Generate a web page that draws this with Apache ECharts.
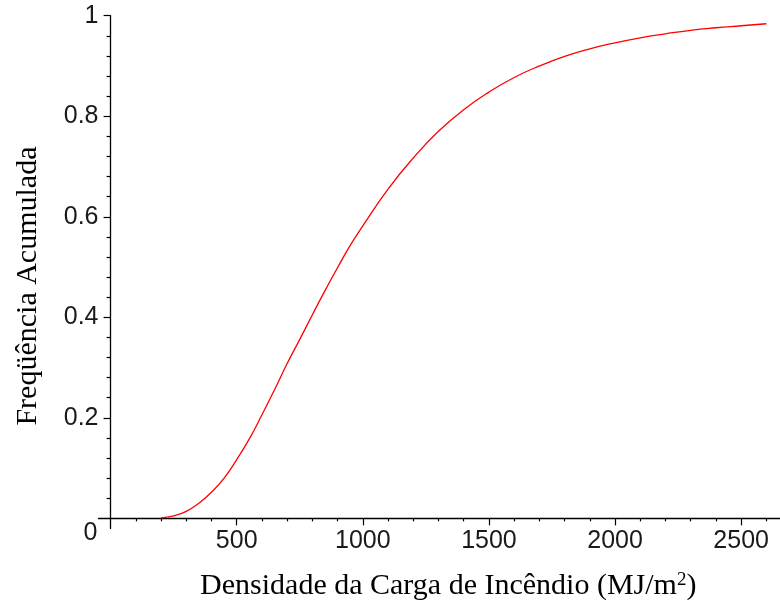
<!DOCTYPE html>
<html>
<head>
<meta charset="utf-8">
<script src="https://cdn.jsdelivr.net/npm/echarts@6/dist/echarts.min.js"></script>
<style>html,body{margin:0;padding:0;background:#fff}#c{width:780px;height:606px}</style>
</head>
<body>
<div id="c"></div>
<script>
// Fire load density (MJ/m2) and cumulative frequency
var densidade = [200, 250, 300, 350, 400, 450, 500, 550, 600, 650, 700, 750, 800, 850, 900, 950, 1000,
  1100, 1200, 1300, 1400, 1500, 1600, 1700, 1800, 1900, 2000, 2100, 2200, 2300, 2400, 2500, 2600];
var frequencia = [0.001, 0.005, 0.014, 0.03, 0.052, 0.08, 0.117, 0.158, 0.206, 0.256, 0.308, 0.356, 0.405, 0.453, 0.499, 0.543, 0.582,
  0.655, 0.717, 0.77, 0.813, 0.848, 0.877, 0.9, 0.919, 0.934, 0.946, 0.956, 0.964, 0.971, 0.976, 0.98, 0.984];
var xMajorTicks = [500, 1000, 1500, 2000, 2500];
var xMinorTicks = [100, 200, 300, 400, 600, 700, 800, 900, 1100, 1200, 1300, 1400, 1600, 1700, 1800, 1900,
  2100, 2200, 2300, 2400, 2600];
var yMajorTicks = [0.2, 0.4, 0.6, 0.8, 1];
var yLabels = [0, 0.2, 0.4, 0.6, 0.8, 1];
var yMinorTicks = [0.04, 0.08, 0.12, 0.16, 0.24, 0.28, 0.32, 0.36, 0.44, 0.48, 0.52, 0.56, 0.64, 0.68, 0.72, 0.76, 0.84, 0.88, 0.92, 0.96];

var points = densidade.map(function (x, i) { return [x, frequencia[i]]; });

var tickFont = '"Liberation Sans", Arial, sans-serif';
var serif = '"Liberation Serif", "Times New Roman", serif';
var axisColor = '#000';
var tickSize = 25;

var chart = echarts.init(document.getElementById('c'), null, { renderer: 'canvas' });
chart.setOption({
  animation: false,
  backgroundColor: '#fff',
  grid: { left: 98.5, right: 0, top: 15.7, bottom: 77.6, containLabel: false, outerBoundsMode: 'none' },
  xAxis: [{
    type: 'value', min: -48, max: 2654, position: 'bottom',
    axisLine: { show: true, onZero: true, lineStyle: { color: axisColor, width: 1.3 } },
    axisTick: { show: true, customValues: xMajorTicks, length: 7, lineStyle: { color: axisColor, width: 1.2 } },
    axisLabel: { show: true, customValues: xMajorTicks, margin: 0, color: '#1a1a1a', fontSize: tickSize, fontFamily: tickFont,
      formatter: function (v) { return String(v); } },
    splitLine: { show: false },
    name: 'Densidade da Carga de Incêndio (MJ/m{s|2})',
    nameLocation: 'middle', nameGap: 42, nameMoveOverlap: false,
    nameTextStyle: { color: '#000', fontSize: 30, fontFamily: serif, padding: [0, 0, 0, 18],
      rich: { s: { fontSize: 19, fontFamily: serif, color: '#000', verticalAlign: 'top', padding: [0, 0, 12, 0] } } }
  }, {
    type: 'value', min: -48, max: 2654, position: 'top',
    axisLine: { show: false, onZero: true },
    axisTick: { show: true, inside: true, customValues: xMinorTicks, length: 3, lineStyle: { color: axisColor, width: 1.2 } },
    axisLabel: { show: false },
    splitLine: { show: false }
  }],
  yAxis: [{
    type: 'value', min: -0.02, max: 1, position: 'left',
    axisLine: { show: true, onZero: true, lineStyle: { color: axisColor, width: 1.3 } },
    axisTick: { show: true, customValues: yMajorTicks, length: 7, lineStyle: { color: axisColor, width: 1.2 } },
    axisLabel: {
      show: true, customValues: yLabels, margin: 0, color: '#1a1a1a', fontSize: tickSize, fontFamily: tickFont,
      formatter: function (v) { return v === 0 ? '{z|0}' : String(v); },
      rich: { z: { fontSize: tickSize, fontFamily: tickFont, color: '#1a1a1a', padding: [30, 1, 0, 0] } }
    },
    splitLine: { show: false },
    name: 'Freqüência Acumulada',
    nameLocation: 'middle', nameGap: 55, nameMoveOverlap: false,
    nameTextStyle: { color: '#000', fontSize: 30, fontFamily: serif, padding: [0, 28, 0, 0] }
  }, {
    type: 'value', min: -0.02, max: 1, position: 'right',
    axisLine: { show: false, onZero: true },
    axisTick: { show: true, inside: true, customValues: yMinorTicks, length: 4, lineStyle: { color: axisColor, width: 1.2 } },
    axisLabel: { show: false },
    splitLine: { show: false }
  }],
  series: [{
    type: 'line', xAxisIndex: 0, yAxisIndex: 0, data: points,
    showSymbol: false, smooth: true, clip: false,
    lineStyle: { color: '#ff0000', width: 1.3 }
  }]
});
</script>
</body>
</html>
